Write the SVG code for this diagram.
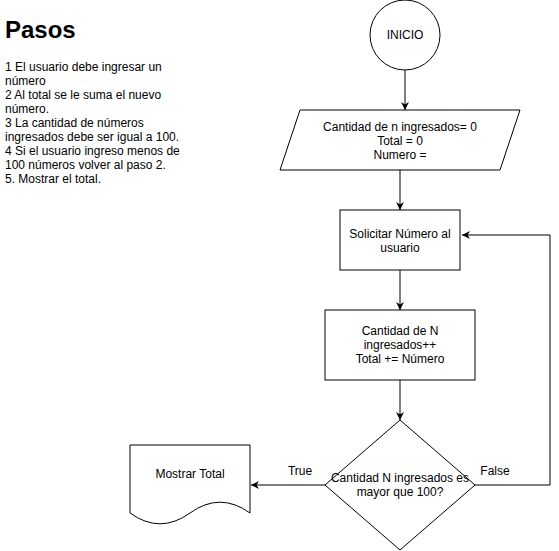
<svg xmlns="http://www.w3.org/2000/svg" width="559" height="551" viewBox="0 0 559 551">
<defs>
<marker id="ah" viewBox="0 0 10 10" refX="10" refY="5" markerWidth="8" markerHeight="8" markerUnits="userSpaceOnUse" orient="auto">
<path d="M0,0 L10,5 L0,10 L3,5 Z" fill="#000"/>
</marker>
</defs>
<style>
.s{fill:#fff;stroke:#000;stroke-width:1}
.t{font-family:"Liberation Sans",Arial,sans-serif;font-size:12px;fill:#000}
.c{text-anchor:middle}
.e{fill:none;stroke:#000;stroke-width:1;marker-end:url(#ah)}
</style>
<rect width="559" height="551" fill="#fff"/>
<g id="steps">
<text x="5" y="38" style="font-family:'Liberation Sans',Arial,sans-serif;font-size:24px;font-weight:bold">Pasos</text>
<text class="t" x="5" y="71">1 El usuario debe ingresar un</text>
<text class="t" x="5" y="85">número</text>
<text class="t" x="5" y="99">2 Al total se le suma el nuevo</text>
<text class="t" x="5" y="113">número.</text>
<text class="t" x="5" y="127">3 La cantidad de números</text>
<text class="t" x="5" y="141">ingresados debe ser igual a 100.</text>
<text class="t" x="5" y="155">4 Si el usuario ingreso menos de</text>
<text class="t" x="5" y="169">100 números volver al paso 2.</text>
<text class="t" x="5" y="183">5. Mostrar el total.</text>
</g>
<g id="connectors">
<path class="e" d="M405,70 L405,110"/>
<path class="e" d="M400,170 L400,210"/>
<path class="e" d="M400,270 L400,310"/>
<path class="e" d="M400,380 L400,420"/>
<path class="e" d="M475,485 L550,485 L550,235 L462,235"/>
<path class="e" d="M325,485 L251,485"/>
<text class="t c" x="300" y="475">True</text>
<text class="t c" x="495" y="475">False</text>
</g>
<g id="inicio">
<circle class="s" cx="405" cy="35" r="35"/>
<text class="t c" x="405" y="39">INICIO</text>
</g>
<g id="init">
<polygon class="s" points="300,110 520,110 500,170 280,170"/>
<text class="t c" x="400" y="131">Cantidad de n ingresados= 0</text>
<text class="t c" x="400" y="145">Total = 0</text>
<text class="t c" x="400" y="159">Numero =</text>
</g>
<g id="solicitar">
<rect class="s" x="340" y="210" width="120" height="60"/>
<text class="t c" x="400" y="238">Solicitar Número al</text>
<text class="t c" x="400" y="252">usuario</text>
</g>
<g id="sumar">
<rect class="s" x="325" y="310" width="150" height="70"/>
<text class="t c" x="400" y="335">Cantidad de N</text>
<text class="t c" x="400" y="349">ingresados++</text>
<text class="t c" x="400" y="363">Total += Número</text>
</g>
<g id="decision">
<polygon class="s" points="400,420 475,485 400,550 325,485"/>
<text class="t c" x="400" y="482">Cantidad N ingresados es</text>
<text class="t c" x="400" y="496">mayor que 100?</text>
</g>
<g id="mostrar">
<path class="s" d="M130,445 L250,445 L250,513 Q220,491.4 190,513 Q160,534.6 130,513 Z"/>
<text class="t c" x="190" y="478">Mostrar Total</text>
</g>
</svg>
